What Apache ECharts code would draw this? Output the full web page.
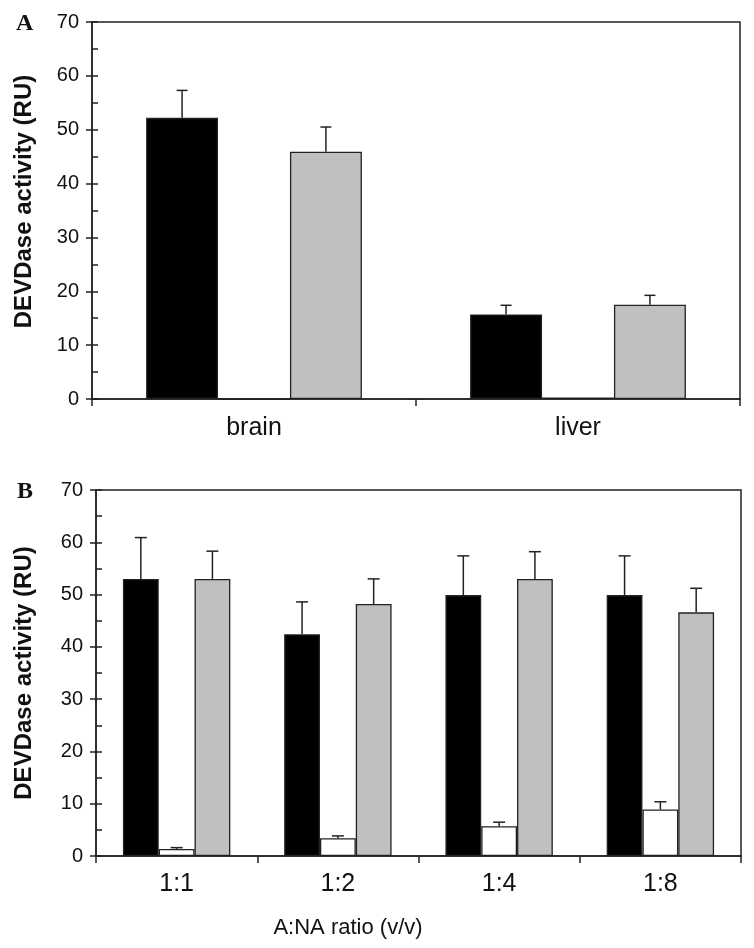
<!DOCTYPE html>
<html>
<head>
<meta charset="utf-8">
<script src="https://cdn.jsdelivr.net/npm/echarts@6/dist/echarts.min.js"></script>
<style>
html,body{margin:0;padding:0;background:#fff;}
#chart{width:754px;height:948px;}
</style>
</head>
<body>
<div id="chart"></div>
<script>
// ---- Data ----
const catsA = ['brain', 'liver'];
const blackA = [52.2, 15.7];
const blackA_sd = [5.1, 1.7];
const whiteA = [0, 0.3];
const whiteA_sd = [0, 0];
const grayA = [45.9, 17.5];
const grayA_sd = [4.6, 1.75];

const catsB = ['1:1', '1:2', '1:4', '1:8'];
const blackB = [53.0, 42.4, 49.9, 49.9];
const blackB_sd = [7.9, 6.2, 7.5, 7.5];
const whiteB = [1.35, 3.4, 5.7, 8.9];
const whiteB_sd = [0.25, 0.44, 0.77, 1.47];
const grayB = [53.0, 48.2, 53.0, 46.6];
const grayB_sd = [5.3, 4.8, 5.2, 4.6];

const yTicks = [0, 10, 20, 30, 40, 50, 60, 70];
const yTitle = 'DEVDase activity (RU)';
const xTitleB = 'A:NA ratio (v/v)';

// ---- Styles ----
const FONT = "'Liberation Sans', Arial, Helvetica, sans-serif";
const LINE = '#222';
const FRAC = 0.222;
const colors = ['#000000', '#ffffff', '#c0c0c0'];

const gridA = {left: 92, top: 22, width: 648, height: 377};
const gridB = {left: 96, top: 490, width: 645, height: 366};

function yAxisMain(gi, gap, pad) {
  return {
    type: 'value', gridIndex: gi, min: 0, max: 70, interval: 10,
    name: yTitle, nameLocation: 'middle', nameGap: gap, nameRotate: 90,
    nameTextStyle: {fontFamily: FONT, fontSize: 24, fontWeight: 'bold', color: '#111', padding: pad},
    axisLine: {show: true, lineStyle: {color: LINE, width: 1.5}},
    axisTick: {show: true, inside: false, length: 6, lineStyle: {color: LINE, width: 1.5}},
    axisLabel: {fontFamily: FONT, fontSize: 20, color: '#111', margin: 13,
      formatter: v => yTicks.indexOf(v) >= 0 ? String(v) : ''},
    splitLine: {show: false}
  };
}
// overlay axis giving the inward ticks every 5 units
function yAxisInner(gi) {
  return {
    type: 'value', gridIndex: gi, min: 0, max: 70, interval: 5, position: 'left',
    axisLine: {show: false},
    axisTick: {show: true, inside: true, length: 6, lineStyle: {color: LINE, width: 1.5}},
    axisLabel: {show: false},
    splitLine: {show: false}
  };
}
function xAxisCat(gi, cats, margin) {
  return {
    type: 'category', gridIndex: gi, data: cats,
    axisLine: {show: true, lineStyle: {color: LINE, width: 1.5}},
    axisTick: {show: true, length: 7, alignWithLabel: false, lineStyle: {color: LINE, width: 1.5}},
    axisLabel: {fontFamily: FONT, fontSize: 25, color: '#111', margin: margin},
    splitLine: {show: false}
  };
}
function xAxisHidden(gi, cats) {
  return {type: 'category', gridIndex: gi, data: cats, show: false};
}

function barSeries(xi, yi, data, color) {
  return {
    type: 'bar', xAxisIndex: xi, yAxisIndex: yi, data: data,
    barWidth: (FRAC * 100) + '%', barGap: '0%',
    itemStyle: {color: color, borderColor: LINE, borderWidth: 1.3},
    emphasis: {disabled: true}, animation: false
  };
}

function errSeries(xi, yi, means, sds, k, cap) {
  return {
    type: 'custom', xAxisIndex: xi, yAxisIndex: yi, z: 5, animation: false,
    data: means.map((m, i) => [i, m, sds[i]]),
    renderItem: function (params, api) {
      const sd = api.value(2);
      if (!sd) return null;
      const c = api.coord([api.value(0), api.value(1)]);
      const t = api.coord([api.value(0), api.value(1) + sd]);
      const catW = api.size([1, 0])[0];
      const x = c[0] + (k - 1) * catW * FRAC;
      const st = {stroke: LINE, lineWidth: 1.5};
      return {type: 'group', children: [
        {type: 'line', shape: {x1: x, y1: c[1], x2: x, y2: t[1]}, style: st},
        {type: 'line', shape: {x1: x - cap, y1: t[1], x2: x + cap, y2: t[1]}, style: st}
      ]};
    }
  };
}

const gridStyle = {show: true, borderColor: LINE, borderWidth: 1.5, backgroundColor: 'transparent'};
const chart = echarts.init(document.getElementById('chart'), null, {renderer: 'canvas'});
chart.setOption({
  backgroundColor: '#fff',
  animation: false,
  title: [
    {text: 'A', left: 11, top: 7, textStyle: {fontFamily: "'Liberation Serif', 'Times New Roman', serif", fontWeight: 'bold', fontSize: 24, color: '#111'}},
    {text: 'B', left: 12, top: 475, textStyle: {fontFamily: "'Liberation Serif', 'Times New Roman', serif", fontWeight: 'bold', fontSize: 24, color: '#111'}},
    {text: xTitleB, left: 343, top: 912, textAlign: 'center', textStyle: {fontFamily: FONT, fontWeight: 'normal', fontSize: 22, color: '#111'}}
  ],
  grid: [
    Object.assign({}, gridStyle, gridA),
    Object.assign({}, gridStyle, gridB),
    Object.assign({show: false}, gridA),
    Object.assign({show: false}, gridB)
  ],
  xAxis: [xAxisCat(0, catsA, 17), xAxisCat(1, catsB, 16), xAxisHidden(2, catsA), xAxisHidden(3, catsB)],
  yAxis: [yAxisMain(0, 56, [0, 0, 0, 18]), yAxisMain(1, 60, [0, 0, 0, 0]), yAxisInner(2), yAxisInner(3)],
  series: [
    barSeries(0, 0, blackA, colors[0]),
    barSeries(0, 0, whiteA, colors[1]),
    barSeries(0, 0, grayA, colors[2]),
    errSeries(0, 0, blackA, blackA_sd, 0, 5.5),
    errSeries(0, 0, whiteA, whiteA_sd, 1, 5.5),
    errSeries(0, 0, grayA, grayA_sd, 2, 5.5),
    barSeries(1, 1, blackB, colors[0]),
    barSeries(1, 1, whiteB, colors[1]),
    barSeries(1, 1, grayB, colors[2]),
    errSeries(1, 1, blackB, blackB_sd, 0, 6),
    errSeries(1, 1, whiteB, whiteB_sd, 1, 6),
    errSeries(1, 1, grayB, grayB_sd, 2, 6)
  ]
});
</script>
</body>
</html>
